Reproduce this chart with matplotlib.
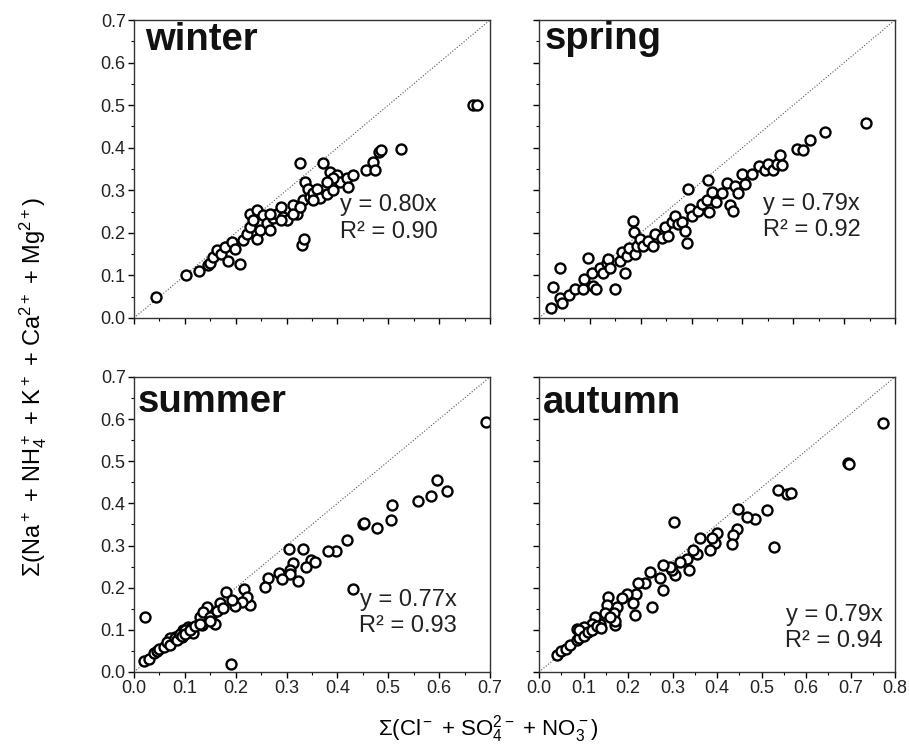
import matplotlib
matplotlib.use('Agg')
import matplotlib.pyplot as plt

plt.rcParams['font.family'] = ['Liberation Sans', 'DejaVu Sans']
plt.rcParams['mathtext.fontset'] = 'custom'
plt.rcParams['mathtext.rm'] = 'Liberation Sans'
plt.rcParams['mathtext.it'] = 'Liberation Sans:italic'
plt.rcParams['mathtext.bf'] = 'Liberation Sans:bold'
plt.rcParams['mathtext.default'] = 'regular'

# data
winter_x = [0.043, 0.102, 0.127, 0.146, 0.149, 0.156, 0.163, 0.172, 0.185, 0.179, 0.192, 0.208, 0.199,
            0.215, 0.222, 0.228, 0.228, 0.241, 0.235, 0.241, 0.248, 0.254, 0.261, 0.267, 0.274, 0.281,
            0.290, 0.294, 0.300, 0.313, 0.320, 0.326, 0.330, 0.334, 0.333, 0.336, 0.343, 0.346, 0.353,
            0.359, 0.366, 0.371, 0.379, 0.385, 0.389, 0.392, 0.400, 0.405, 0.418, 0.421, 0.431, 0.457,
            0.471, 0.474, 0.482, 0.485, 0.526, 0.667, 0.674, 0.267, 0.290, 0.313, 0.326, 0.392, 0.379,
            0.353]
winter_y = [0.049, 0.100, 0.110, 0.124, 0.128, 0.143, 0.159, 0.151, 0.135, 0.167, 0.179, 0.127, 0.163,
            0.183, 0.198, 0.214, 0.245, 0.253, 0.230, 0.186, 0.206, 0.242, 0.222, 0.206, 0.234, 0.245,
            0.261, 0.238, 0.230, 0.265, 0.245, 0.363, 0.171, 0.186, 0.277, 0.320, 0.304, 0.285, 0.293,
            0.304, 0.281, 0.363, 0.291, 0.344, 0.320, 0.301, 0.336, 0.320, 0.328, 0.308, 0.336, 0.348,
            0.367, 0.348, 0.391, 0.395, 0.397, 0.500, 0.500, 0.245, 0.230, 0.245, 0.261, 0.328, 0.320,
            0.277]

spring_x = [0.023, 0.027, 0.041, 0.041, 0.045, 0.059, 0.071, 0.087, 0.088, 0.097, 0.104, 0.107, 0.112,
            0.120, 0.126, 0.133, 0.136, 0.140, 0.149, 0.159, 0.163, 0.169, 0.172, 0.176, 0.184, 0.186,
            0.189, 0.192, 0.199, 0.205, 0.215, 0.225, 0.228, 0.241, 0.248, 0.254, 0.261, 0.267, 0.274,
            0.282, 0.287, 0.290, 0.292, 0.297, 0.300, 0.313, 0.320, 0.330, 0.333, 0.334, 0.340, 0.348,
            0.359, 0.369, 0.376, 0.382, 0.385, 0.392, 0.400, 0.405, 0.418, 0.433, 0.444, 0.450, 0.461,
            0.467, 0.473, 0.477, 0.507, 0.520, 0.533, 0.563, 0.642]
spring_y = [0.024, 0.073, 0.118, 0.047, 0.035, 0.054, 0.067, 0.069, 0.091, 0.142, 0.106, 0.075, 0.067,
            0.118, 0.106, 0.130, 0.138, 0.118, 0.069, 0.134, 0.154, 0.106, 0.146, 0.165, 0.229, 0.201,
            0.150, 0.169, 0.185, 0.169, 0.180, 0.169, 0.197, 0.189, 0.213, 0.193, 0.225, 0.240, 0.221,
            0.225, 0.205, 0.177, 0.302, 0.256, 0.240, 0.252, 0.268, 0.276, 0.323, 0.248, 0.296, 0.272,
            0.293, 0.317, 0.266, 0.252, 0.311, 0.293, 0.339, 0.315, 0.339, 0.357, 0.347, 0.362, 0.347,
            0.362, 0.382, 0.359, 0.398, 0.394, 0.419, 0.437, 0.457]

summer_x = [0.022, 0.323, 0.305, 0.333, 0.431, 0.693, 0.596, 0.615, 0.585, 0.559, 0.507, 0.505, 0.477,
            0.451, 0.453, 0.419, 0.398, 0.382, 0.349, 0.356, 0.338, 0.313, 0.307, 0.307, 0.286, 0.292,
            0.264, 0.258, 0.216, 0.228, 0.222, 0.212, 0.181, 0.199, 0.192, 0.169, 0.159, 0.156, 0.144,
            0.133, 0.130, 0.136, 0.149, 0.163, 0.176, 0.117, 0.107, 0.097, 0.094, 0.081, 0.071, 0.113,
            0.020, 0.030, 0.040, 0.045, 0.050, 0.060, 0.065, 0.070, 0.080, 0.085, 0.090, 0.095, 0.100,
            0.100, 0.110, 0.120, 0.130, 0.150, 0.190]
summer_y = [0.130, 0.216, 0.293, 0.293, 0.196, 0.593, 0.455, 0.430, 0.417, 0.405, 0.397, 0.360, 0.341,
            0.352, 0.354, 0.314, 0.288, 0.287, 0.265, 0.261, 0.250, 0.258, 0.243, 0.232, 0.234, 0.220,
            0.224, 0.201, 0.198, 0.159, 0.179, 0.167, 0.189, 0.156, 0.171, 0.163, 0.115, 0.139, 0.155,
            0.111, 0.131, 0.143, 0.131, 0.145, 0.151, 0.092, 0.107, 0.100, 0.084, 0.084, 0.080, 0.104,
            0.025, 0.030, 0.045, 0.050, 0.055, 0.060, 0.070, 0.065, 0.080, 0.075, 0.090, 0.085, 0.100,
            0.090, 0.100, 0.110, 0.115, 0.120, 0.020]

autumn_x = [0.774, 0.695, 0.697, 0.536, 0.557, 0.566, 0.528, 0.512, 0.485, 0.467, 0.448, 0.446, 0.437,
            0.433, 0.399, 0.396, 0.388, 0.384, 0.362, 0.354, 0.345, 0.336, 0.332, 0.317, 0.304, 0.306,
            0.298, 0.294, 0.279, 0.279, 0.272, 0.249, 0.253, 0.238, 0.223, 0.219, 0.216, 0.212, 0.197,
            0.186, 0.175, 0.171, 0.169, 0.156, 0.152, 0.148, 0.137, 0.126, 0.118, 0.107, 0.086, 0.100,
            0.040, 0.050, 0.060, 0.070, 0.085, 0.090, 0.090, 0.100, 0.110, 0.120, 0.130, 0.140, 0.170,
            0.160]
autumn_y = [0.591, 0.495, 0.494, 0.433, 0.422, 0.425, 0.297, 0.384, 0.363, 0.368, 0.386, 0.339, 0.325,
            0.303, 0.329, 0.305, 0.317, 0.289, 0.317, 0.281, 0.289, 0.242, 0.269, 0.262, 0.356, 0.230,
            0.243, 0.248, 0.254, 0.194, 0.222, 0.238, 0.155, 0.210, 0.210, 0.186, 0.135, 0.163, 0.186,
            0.175, 0.155, 0.111, 0.141, 0.179, 0.159, 0.139, 0.115, 0.131, 0.115, 0.096, 0.101, 0.106,
            0.040, 0.050, 0.055, 0.065, 0.075, 0.080, 0.100, 0.085, 0.095, 0.100, 0.110, 0.105, 0.120,
            0.130]

seasons = ['winter', 'spring', 'summer', 'autumn']
xs = [winter_x, spring_x, summer_x, autumn_x]
ys = [winter_y, spring_y, summer_y, autumn_y]
fits = ['y = 0.80x\nR² = 0.90', 'y = 0.79x\nR² = 0.92', 'y = 0.77x\nR² = 0.93', 'y = 0.79x\nR² = 0.94']
xmaxes = [0.7, 0.7, 0.7, 0.8]

fig = plt.figure(figsize=(9.09, 7.44), dpi=100)
rects = [[0.1474, 0.5726, 0.3916, 0.4005], [0.593, 0.5726, 0.3916, 0.4005],
         [0.1474, 0.0968, 0.3916, 0.3965], [0.593, 0.0968, 0.3916, 0.3965]]
name_pos = [(0.031, 0.899), (0.017, 0.903), (0.011, 0.882), (0.011, 0.879)]
fit_pos = [(0.579, 0.334, 'left'), (0.629, 0.340, 'left'), (0.906, 0.200, 'right'), (0.966, 0.150, 'right')]

for i in range(4):
    ax = fig.add_axes(rects[i])
    xmax = xmaxes[i]
    # diagonal reference line, corner to corner
    ax.plot([0, xmax], [0, 0.7], ls=':', color='#555555', lw=0.8)
    ax.plot(xs[i], ys[i], 'o', ms=7.2, mfc='white', mec='black', mew=1.7)
    ax.set_xlim(0, xmax)
    ax.set_ylim(0, 0.7)
    ax.set_xticks([k / 10 for k in range(int(round(xmax * 10)) + 1)])
    ax.set_yticks([k / 10 for k in range(8)])
    ax.set_xticks([k / 20 for k in range(int(round(xmax * 20)) + 1)], minor=True)
    ax.set_yticks([k / 20 for k in range(15)], minor=True)
    ax.xaxis.set_major_formatter(plt.FormatStrFormatter('%.1f'))
    ax.yaxis.set_major_formatter(plt.FormatStrFormatter('%.1f'))
    ax.tick_params(which='major', direction='out', length=4, width=1, labelsize=13, pad=2,
                   labelcolor='#222222')
    ax.tick_params(which='minor', direction='out', length=2.5, width=0.8)
    ax.tick_params(top=False, right=False, which='both')
    for s in ax.spines.values():
        s.set_color('#333333')
        s.set_linewidth(1)
    if i < 2:
        ax.tick_params(labelbottom=False)
    if i % 2 == 1:
        ax.tick_params(labelleft=False)
    ax.text(name_pos[i][0], name_pos[i][1], seasons[i], transform=ax.transAxes,
            fontsize=27.5, fontweight='bold', va='baseline', ha='left', color='#111111')
    fx, fy, ha = fit_pos[i]
    ax.text(fx, fy, fits[i], transform=ax.transAxes, fontsize=17, va='center', ha=ha,
            linespacing=1.25, color='#222222')

fig.text(0.036, 0.48, r'$\Sigma$(Na$^+$ + NH$_4^+$ + K$^+$ + Ca$^{2+}$ + Mg$^{2+}$)',
         rotation=90, ha='center', va='center', fontsize=17)
fig.text(0.537, 0.02, r'$\Sigma$(Cl$^-$ + SO$_4^{2-}$ + NO$_3^-$)',
         ha='center', va='center', fontsize=16)

plt.savefig('out.png', dpi=100)
